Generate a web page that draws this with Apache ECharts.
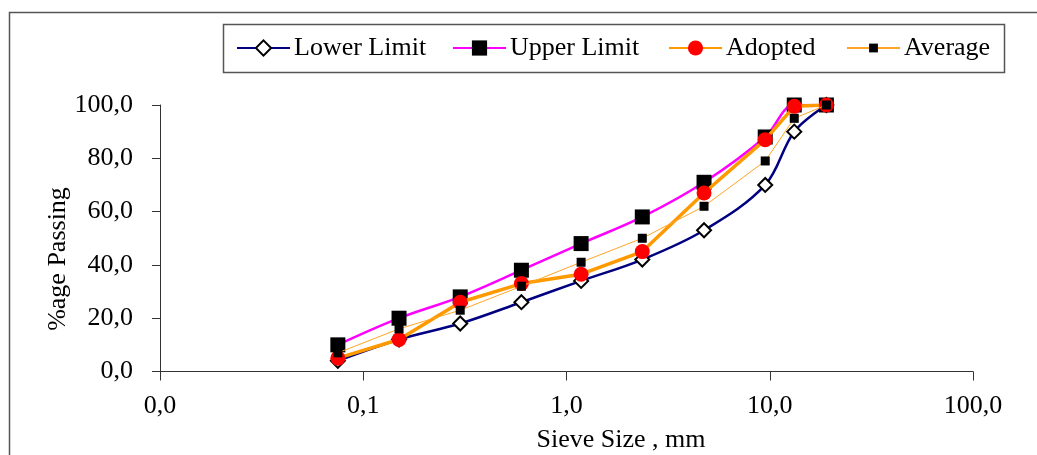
<!DOCTYPE html>
<html>
<head>
<meta charset="utf-8">
<script src="https://cdn.jsdelivr.net/npm/echarts@6/dist/echarts.min.js"></script>
<style>
  html, body { margin: 0; padding: 0; background: #fff; }
  #chart { width: 1037px; height: 455px; }
</style>
</head>
<body>
<div id="chart"></div>
<script>
// Sieve sizes (mm) and cumulative % passing for each gradation
const sieveSizes = [0.075, 0.15, 0.3, 0.6, 1.18, 2.36, 4.75, 9.5, 13.2, 19];
const lowerLimit = [4, 12, 18, 26, 34, 42, 53, 70, 90, 100];
const upperLimit = [10, 20, 28, 38, 48, 58, 71, 88, 100, 100];
const adopted    = [5, 12, 26, 33, 36.5, 45, 67, 87, 99.5, 100];
const average    = [7, 16, 23, 32, 41, 50, 62, 79, 95, 100];

const seriesNames = ['Lower Limit', 'Upper Limit', 'Adopted', 'Average'];
const xTitle = 'Sieve Size , mm';
const yTitle = '%age Passing';

const FONT = '"Liberation Serif", "Times New Roman", serif';
const fmt = v => Number(v).toFixed(1).replace('.', ',');
const pairs = ys => sieveSizes.map((x, i) => [x, ys[i]]);

const chart = echarts.init(document.getElementById('chart'), null, { renderer: 'canvas' });

// one legend per entry so each sits at its own spot inside the shared frame
const legendLefts = [236, 452, 668, 846];
const legendIconH = [19, 19, 19, 11];
const legends = seriesNames.map((n, i) => ({
  data: [n],
  left: legendLefts[i],
  top: 35,
  padding: 0,
  itemWidth: 53,
  itemHeight: legendIconH[i],
  itemGap: 0,
  textStyle: { fontFamily: FONT, fontSize: 26, color: '#000', padding: [0, 0, 0, -1] }
}));

chart.setOption({
  animation: false,
  backgroundColor: '#fff',
  legend: legends,
  grid: { left: 160, right: 64, top: 105, bottom: 83.5, containLabel: false },
  xAxis: {
    type: 'log',
    logBase: 10,
    min: 0.01,
    max: 100,
    axisLine: { show: true, lineStyle: { color: '#333', width: 1 } },
    axisTick: { show: true, inside: false, length: 9, lineStyle: { color: '#333' } },
    minorTick: { show: false },
    splitLine: { show: false },
    axisLabel: { fontFamily: FONT, fontSize: 26, color: '#000', margin: 22, formatter: fmt }
  },
  yAxis: {
    type: 'value',
    min: 0,
    max: 100,
    interval: 20,
    axisLine: { show: true, lineStyle: { color: '#333', width: 1 } },
    axisTick: { show: true, inside: false, length: 8, lineStyle: { color: '#333' } },
    splitLine: { show: false },
    axisLabel: { fontFamily: FONT, fontSize: 26, color: '#000', margin: 27, formatter: fmt }
  },
  graphic: [
    { type: 'rect', silent: true, z: -1,
      shape: { x: 9.5, y: 12.5, width: 1100, height: 500 },
      style: { fill: 'none', stroke: '#555', lineWidth: 1.5 } },
    { type: 'rect', silent: true, z: -1,
      shape: { x: 223.5, y: 24.5, width: 781, height: 48 },
      style: { fill: '#fff', stroke: '#555', lineWidth: 1.5 } },
    { type: 'text', x: 621, y: 440,
      style: { text: xTitle, font: '26px ' + FONT, fill: '#000', align: 'center', verticalAlign: 'middle' } },
    { type: 'text', x: 58, y: 259, rotation: Math.PI / 2,
      style: { text: yTitle, font: '26px ' + FONT, fill: '#000', align: 'center', verticalAlign: 'middle' } }
  ],
  series: [
    {
      name: seriesNames[0], type: 'line', data: pairs(lowerLimit), smooth: 0.35,
      symbol: 'diamond', symbolSize: 14,
      lineStyle: { color: '#000080', width: 2.5 },
      itemStyle: { color: '#fff', borderColor: '#000', borderWidth: 2 },
      z: 2
    },
    {
      name: seriesNames[1], type: 'line', data: pairs(upperLimit), smooth: 0.35,
      symbol: 'rect', symbolSize: 15,
      lineStyle: { color: '#FF00FF', width: 2.5 },
      itemStyle: { color: '#000', borderColor: '#000', borderWidth: 0 },
      z: 3
    },
    {
      name: seriesNames[2], type: 'line', data: pairs(adopted),
      symbol: 'circle', symbolSize: 15,
      lineStyle: { color: '#FF9900', width: 3.5 },
      itemStyle: { color: '#FF0000', borderColor: '#FF0000', borderWidth: 0 },
      z: 4
    },
    {
      name: seriesNames[3], type: 'line', data: pairs(average),
      symbol: 'rect', symbolSize: 9,
      lineStyle: { color: '#FFA526', width: 1 },
      itemStyle: { color: '#000', borderWidth: 0 },
      z: 5
    }
  ]
});
</script>
</body>
</html>
